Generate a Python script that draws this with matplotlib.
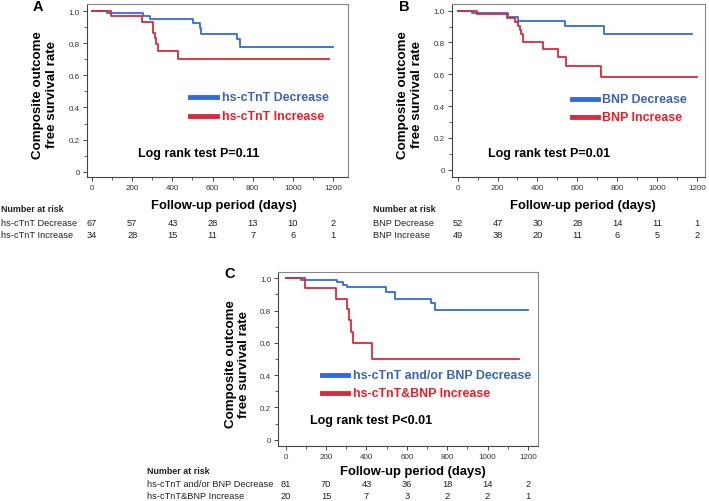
import numpy as np
import matplotlib
matplotlib.use("Agg")
import matplotlib.pyplot as plt
from matplotlib.ticker import MultipleLocator
from matplotlib.transforms import blended_transform_factory

plt.rcParams['font.family'] = ['Liberation Sans', 'DejaVu Sans']

# --- data ---
a_dec_t = [0, 73, 256, 289, 501, 538, 543, 720, 737, 1200]
a_dec_s = [1.0, 0.985, 0.971, 0.950, 0.923, 0.894, 0.857, 0.826, 0.778, 0.778]
a_inc_t = [0, 95, 247, 305, 312, 320, 330, 430, 1182]
a_inc_s = [1.0, 0.971, 0.933, 0.861, 0.830, 0.795, 0.753, 0.701, 0.701]

b_dec_t = [0, 73, 254, 304, 539, 736, 1178]
b_dec_s = [1.0, 0.983, 0.962, 0.938, 0.904, 0.853, 0.853]
b_inc_t = [0, 95, 249, 288, 301, 313, 320, 328, 427, 502, 542, 719, 1200]
b_inc_s = [1.0, 0.979, 0.952, 0.930, 0.905, 0.880, 0.855, 0.800, 0.759, 0.711, 0.654, 0.585, 0.585]

c_dec_t = [0, 74, 252, 285, 302, 499, 540, 543, 718, 738, 1199]
c_dec_s = [1.0, 0.990, 0.975, 0.960, 0.944, 0.918, 0.897, 0.872, 0.847, 0.806, 0.806]
c_inc_t = [0, 95, 248, 305, 315, 325, 335, 428, 1158]
c_inc_s = [1.0, 0.940, 0.871, 0.810, 0.740, 0.670, 0.600, 0.500, 0.500]

# number at risk
risk_days = [0, 200, 400, 600, 800, 1000, 1200]
a_dec_n = [67, 57, 43, 28, 13, 10, 2]
a_inc_n = [34, 28, 15, 11, 7, 6, 1]
b_dec_n = [52, 47, 30, 28, 14, 11, 1]
b_inc_n = [49, 38, 20, 11, 6, 5, 2]
c_dec_n = [81, 70, 43, 36, 18, 14, 2]
c_inc_n = [20, 15, 7, 3, 2, 2, 1]

a_labels = ["hs-cTnT Decrease", "hs-cTnT Increase"]
b_labels = ["BNP Decrease", "BNP Increase"]
c_labels = ["hs-cTnT and/or BNP Decrease", "hs-cTnT&BNP Increase"]
pvals = ["Log rank test P=0.11", "Log rank test P=0.01", "Log rank test P<0.01"]

BLUE = '#2f6ae0'
RED = '#d92a3c'
BLUE_TXT = '#3a63b2'
RED_TXT = '#ee1c24'

W, H = 709, 502
fig = plt.figure(figsize=(W / 100, H / 100), dpi=100)


def fx(x):
    return x / W


def fy(y):
    return 1 - y / H


def make_axes(l, t, r, b, xlim, ylim):
    ax = fig.add_axes([fx(l), fy(b), fx(r) - fx(l), fy(t) - fy(b)])
    ax.set_xlim(*xlim)
    ax.set_ylim(*ylim)
    for s in ax.spines.values():
        s.set_color('#888888')
        s.set_linewidth(0.8)
    ax.spines['left'].set_color('#444444')
    ax.spines['bottom'].set_color('#444444')
    ax.xaxis.set_major_locator(MultipleLocator(200))
    ax.xaxis.set_minor_locator(MultipleLocator(100))
    ax.yaxis.set_major_locator(MultipleLocator(0.2))
    ax.yaxis.set_minor_locator(MultipleLocator(0.1))
    ax.yaxis.set_major_formatter(lambda v, p: '0' if abs(v) < 1e-9 else f'{v:.1f}')
    ax.tick_params(which='major', direction='out', length=3, width=0.7,
                   labelsize=5.8, colors='#444444', labelcolor='#333333', pad=2)
    ax.tick_params(which='minor', direction='out', length=2, width=0.6, colors='#444444')
    ax.tick_params(top=False, right=False, which='both')
    return ax


def panel(ax, dec_t, dec_s, inc_t, inc_s):
    ax.step(dec_t, dec_s, where='post', color=BLUE, lw=1.3)
    ax.step(inc_t, inc_s, where='post', color=RED, lw=1.3)


def legend(x0, x1, xt, y_dec, y_inc, labels):
    for y, c, tc, lab in [(y_dec, BLUE, BLUE_TXT, labels[0]), (y_inc, RED, RED_TXT, labels[1])]:
        fig.add_artist(plt.Line2D([fx(x0), fx(x1)], [fy(y), fy(y)], color=c, lw=3.5,
                                  transform=fig.transFigure))
        fig.text(fx(xt), fy(y), lab, color=tc, fontsize=8.9, fontweight='bold',
                 ha='left', va='center')


def risk_table(ax, xlab, y_head, y1, y2, labels, n1, n2):
    fig.text(fx(xlab), fy(y_head), "Number at risk", fontsize=6.4, fontweight='bold',
             ha='left', va='center', color='#222222')
    fig.text(fx(xlab), fy(y1), labels[0], fontsize=6.7, ha='left', va='center', color='#222222')
    fig.text(fx(xlab), fy(y2), labels[1], fontsize=6.7, ha='left', va='center', color='#222222')
    tr = blended_transform_factory(ax.transData, fig.transFigure)
    for d, a, b in zip(risk_days, n1, n2):
        ax.text(d, fy(y1), str(a), transform=tr, fontsize=6.7, ha='center', va='center',
                color='#222222', clip_on=False)
        ax.text(d, fy(y2), str(b), transform=tr, fontsize=6.7, ha='center', va='center',
                color='#222222', clip_on=False)


def ylabel(x, y):
    fig.text(fx(x), fy(y), "Composite outcome\nfree survival rate", rotation=90,
             fontsize=9.6, fontweight='bold', ha='center', va='center',
             multialignment='center', linespacing=1.15)


# --- panel A ---
axA = make_axes(86.7, 5, 348, 178, (-27, 1275), (-0.033, 1.044))
panel(axA, a_dec_t, a_dec_s, a_inc_t, a_inc_s)
legend(190, 217, 222, 98.3, 116.7, a_labels)
fig.text(fx(138), fy(154), pvals[0], fontsize=9, fontweight='bold', ha='left', va='center')
ylabel(45, 95)
fig.text(fx(38), fy(7), "A", fontsize=10.5, fontweight='bold', ha='center', va='center')
fig.text(fx(223.5), fy(206.5), "Follow-up period (days)", fontsize=9.4,
         fontweight='bold', ha='center', va='center')
risk_table(axA, 1, 209.5, 224, 235.5, a_labels, a_dec_n, a_inc_n)

# --- panel B ---
axB = make_axes(451.7, 5, 705, 178, (-30, 1241), (-0.046, 1.042))
panel(axB, b_dec_t, b_dec_s, b_inc_t, b_inc_s)
legend(572, 598, 602, 100, 118.3, b_labels)
fig.text(fx(488), fy(154), pvals[1], fontsize=9, fontweight='bold', ha='left', va='center')
ylabel(410, 95)
fig.text(fx(404), fy(7), "B", fontsize=10.5, fontweight='bold', ha='center', va='center')
fig.text(fx(583), fy(206.5), "Follow-up period (days)", fontsize=9.4,
         fontweight='bold', ha='center', va='center')
risk_table(axB, 373, 209.5, 224, 235.5, b_labels, b_dec_n, b_inc_n)

# --- panel C ---
axC = make_axes(278.3, 272.7, 538, 447.3, (-37, 1250), (-0.041, 1.041))
panel(axC, c_dec_t, c_dec_s, c_inc_t, c_inc_s)
legend(322, 348, 353, 375.7, 394, c_labels)
fig.text(fx(310), fy(421), pvals[2], fontsize=9, fontweight='bold', ha='left', va='center')
ylabel(237.5, 364)
fig.text(fx(230), fy(274), "C", fontsize=10.5, fontweight='bold', ha='center', va='center')
fig.text(fx(413), fy(471.7), "Follow-up period (days)", fontsize=9.4,
         fontweight='bold', ha='center', va='center')
risk_table(axC, 147, 471, 485, 496.7, c_labels, c_dec_n, c_inc_n)

fig.savefig("out.png", dpi=100)
